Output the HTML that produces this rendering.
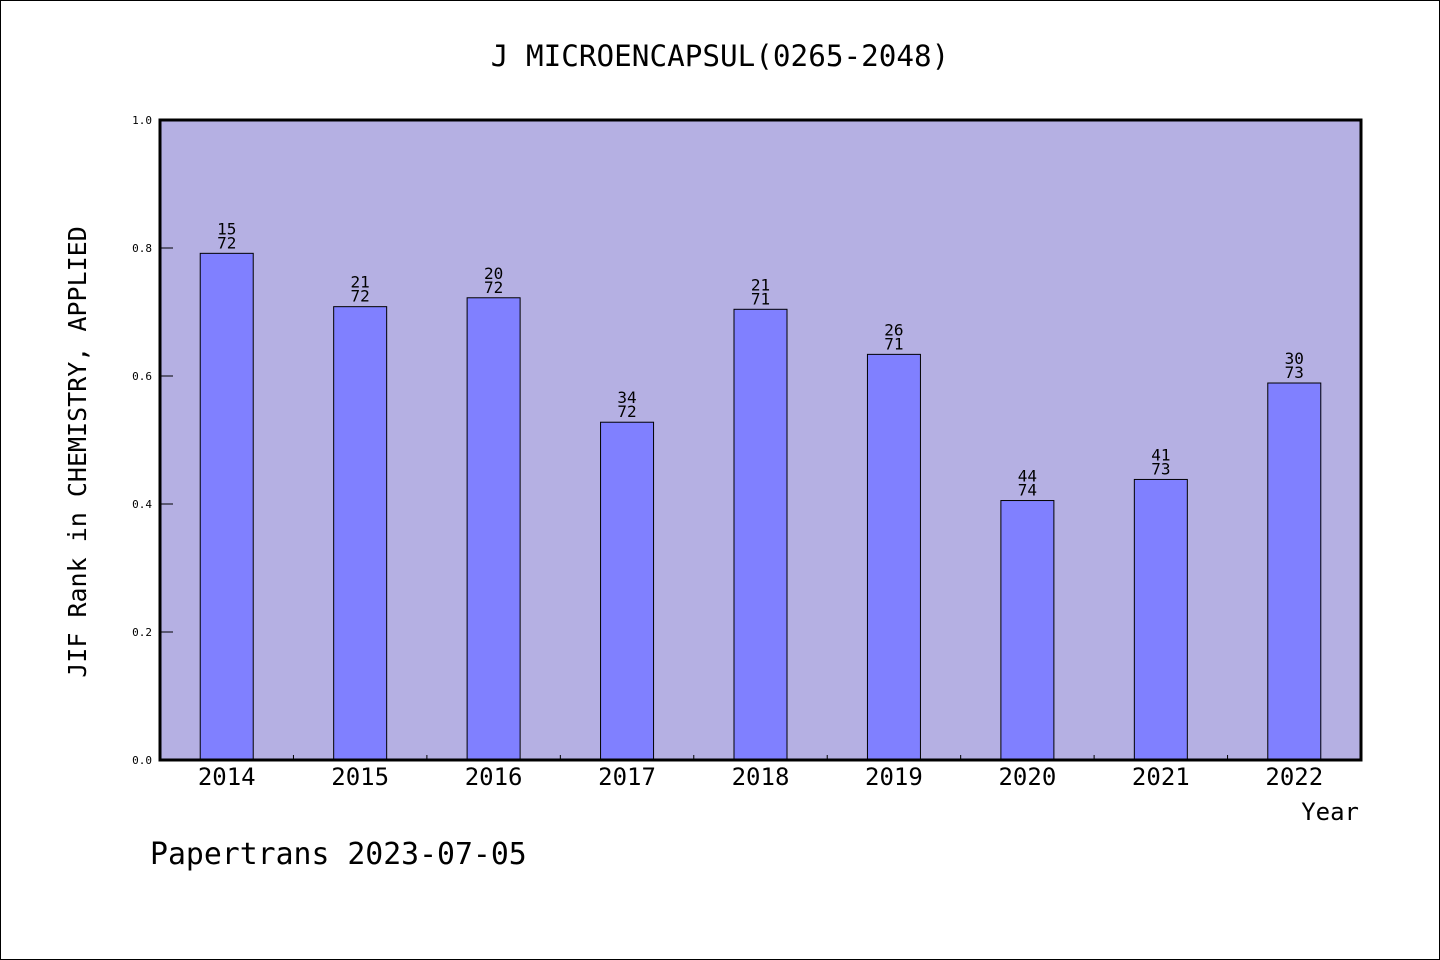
<!DOCTYPE html>
<html><head><meta charset="utf-8"><style>
body{margin:0;background:#fff}
svg{display:block}
text{font-family:"DejaVu Sans Mono","Liberation Mono",monospace}
</style></head><body>
<svg id="c" width="1440" height="960" xmlns="http://www.w3.org/2000/svg">
<rect x="0.5" y="0.5" width="1439" height="959" fill="#fff" stroke="#000"/>
<text x="720" y="66" font-size="29.3" text-anchor="middle">J MICROENCAPSUL(0265-2048)</text>
<rect x="160" y="120" width="1201" height="640" fill="#b5b0e3"/>
<g id="bars"></g>
<g id="axes"></g>
<rect x="160" y="120" width="1201" height="640" fill="none" stroke="#000" stroke-width="3"/>
<text transform="translate(86,452) rotate(-90)" font-size="25" text-anchor="middle">JIF Rank in CHEMISTRY, APPLIED</text>
<text x="1359" y="820" font-size="24" text-anchor="end">Year</text>
<text x="150" y="864" font-size="29.8">Papertrans 2023-07-05</text>
</svg>
<script>
const years=["2014","2015","2016","2017","2018","2019","2020","2021","2022"];
const ranks=[15,21,20,34,21,26,44,41,30];
const totals=[72,72,72,72,71,71,74,73,73];
const yTicks=[0,0.2,0.4,0.6,0.8,1.0];
const NS="http://www.w3.org/2000/svg";
const X0=160,X1=1361,Y0=760,Y1=120;
const step=(X1-X0)/years.length;
const xc=i=>X0+step*(i+0.5);
const ys=v=>Y0-(Y0-Y1)*v;
function mk(t,a,p){const e=document.createElementNS(NS,t);for(const k in a)e.setAttribute(k,a[k]);p.appendChild(e);return e;}
const bars=document.getElementById('bars'),axes=document.getElementById('axes');
years.forEach((y,i)=>{
  const v=1-ranks[i]/totals[i];
  const r=mk('rect',{x:xc(i)-26.5,y:ys(v),width:53,height:Y0-ys(v),fill:'#8080ff',stroke:'#000','stroke-width':1},bars);
  
  
  const t1=mk('text',{x:xc(i),y:ys(v)-19,'font-size':16,'text-anchor':'middle'},bars);t1.textContent=ranks[i];
  
  
  const t2=mk('text',{x:xc(i),y:ys(v)-5,'font-size':16,'text-anchor':'middle'},bars);t2.textContent=totals[i];
  
  
  const xl=mk('text',{x:xc(i),y:785,'font-size':24,'text-anchor':'middle'},axes);xl.textContent=y;
  
  
  if(i>0){const tk=mk('line',{x1:X0+step*i,x2:X0+step*i,y1:Y0,y2:Y0-5,stroke:'#000'},axes);
  
  }
});
yTicks.forEach(v=>{
  const tk=mk('line',{x1:X0,x2:X0+13,y1:ys(v),y2:ys(v),stroke:'#000'},axes);
  
  
  const t=mk('text',{x:152,y:ys(v)+4,'font-size':11,'text-anchor':'end'},axes);t.textContent=v.toFixed(1);
  
  
});
</script>
</body></html>
